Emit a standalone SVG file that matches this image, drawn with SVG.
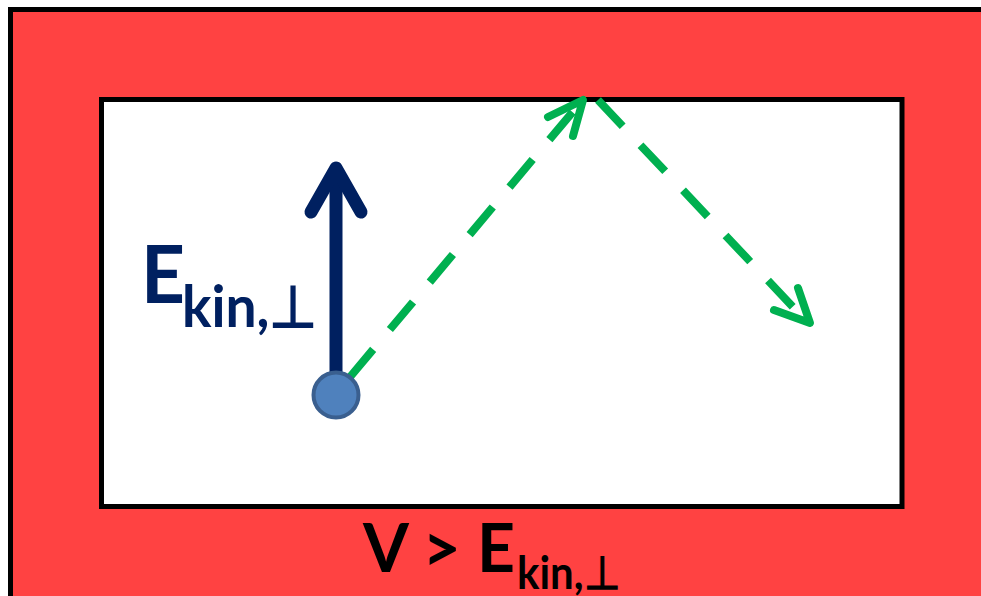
<svg xmlns="http://www.w3.org/2000/svg" width="981" height="596" viewBox="0 0 981 596">
<defs>
<style>
.frame{fill:#FF4242;stroke:#000;stroke-width:5}
.inner{fill:#fff;stroke:#000;stroke-width:5}
.dash{fill:none;stroke:#00B050;stroke-width:8;stroke-dasharray:36 26}
.head{fill:none;stroke:#00B050;stroke-width:8;stroke-linecap:round;stroke-linejoin:round}
.lbl{font-family:Lato,"Liberation Sans",sans-serif;font-weight:bold}
</style>
</defs>
<g id="barrier">
<rect class="frame" x="10.5" y="9.5" width="990" height="600"/>
<text class="lbl" x="363" y="572" font-size="66" textLength="152" lengthAdjust="spacingAndGlyphs" fill="#000">V &gt; E</text>
<text class="lbl" x="517" y="589" font-size="46" textLength="103" lengthAdjust="spacingAndGlyphs" fill="#000">kin,⊥</text>
</g>
<g id="well">
<rect class="inner" x="101.5" y="99.5" width="800.5" height="407"/>
</g>
<g id="momentum">
<line x1="336" y1="372" x2="336" y2="168" stroke="#002060" stroke-width="13"/>
<polyline points="311,212 336,168 361,212" fill="none" stroke="#002060" stroke-width="13" stroke-linecap="round" stroke-linejoin="round"/>
<text class="lbl" x="141" y="303" font-size="80" textLength="44" lengthAdjust="spacingAndGlyphs" fill="#002060">E</text>
<text class="lbl" x="182" y="327" font-size="58" textLength="136" lengthAdjust="spacingAndGlyphs" fill="#002060">kin,⊥</text>
</g>
<g id="connectors">
<line class="dash" x1="350" y1="377" x2="581" y2="102"/>
<polyline class="head" points="548,117 583,100 573,136"/>
<line class="dash" x1="598" y1="100" x2="808" y2="323"/>
<polyline class="head" points="774,310 810,323 798,288"/>
</g>
<g id="particle">
<circle cx="336" cy="395" r="22.5" fill="#4F81BD" stroke="#3A5F8F" stroke-width="4"/>
</g>
</svg>
